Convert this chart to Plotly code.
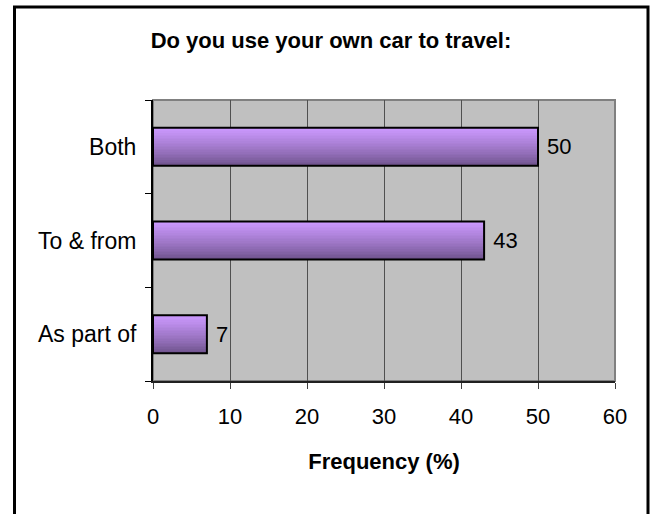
import plotly.graph_objects as go

categories = ["As part of", "To & from", "Both"]
values = [7, 43, 50]
x_ticks = [0, 10, 20, 30, 40, 50, 60]
title_text = "Do you use your own car to travel:"
x_title = "Frequency (%)"

# gradient colours (bottom dark -> top light)
dark = (104, 78, 132)
light = (204, 153, 255)
N = 24
W = 0.406

fig = go.Figure()
for i in range(N):
    t = ((i + 0.5) / N) ** 0.8
    c = tuple(int(round(d + (l - d) * t)) for d, l in zip(dark, light))
    fig.add_trace(go.Bar(
        y=categories, x=values, orientation="h",
        width=W / N + 0.002, offset=-W / 2 + i * W / N,
        marker=dict(color="rgb(%d,%d,%d)" % c, line=dict(width=0)),
        hoverinfo="skip", showlegend=False,
    ))

fig.add_trace(go.Bar(
    y=categories, x=values, orientation="h",
    width=W, offset=-W / 2,
    marker=dict(color="rgba(0,0,0,0)", line=dict(color="black", width=2)),
    text=[" " + str(v) for v in values], textposition="outside",
    constraintext="none",
    textfont=dict(family="Liberation Sans, Arial", size=22, color="black"),
    cliponaxis=False, showlegend=False,
))

fig.update_layout(
    width=654, height=514,
    margin=dict(l=153, r=39, t=100, b=133),
    paper_bgcolor="white", plot_bgcolor="#C0C0C0",
    barmode="overlay",
    font=dict(family="Liberation Sans, Arial", size=22, color="black"),
    title=dict(text="<b>" + title_text + "</b>", x=331 / 654, xref="container",
               xanchor="center", y=1 - 40 / 514, yref="container", yanchor="middle",
               font=dict(size=22, color="black")),
    xaxis=dict(range=[0, 60], tickvals=x_ticks, ticktext=[str(v) for v in x_ticks],
               showgrid=True, gridcolor="#505050", gridwidth=1,
               ticks="outside", ticklen=6, tickcolor="#404040", tickwidth=1,
               showline=True, linecolor="#202020", linewidth=2,
               ticklabelstandoff=9, zeroline=False,
               title=dict(text="<b>" + x_title + "</b>", standoff=25,
                          font=dict(size=22))),
    yaxis=dict(type="category", tickson="boundaries", ticks="outside", ticklen=6,
               tickcolor="black", tickwidth=1, showline=True, linecolor="black",
               linewidth=2, showgrid=False, ticklabelstandoff=10,
               tickfont=dict(size=23)),
    shapes=[
        dict(type="rect", xref="paper", yref="paper", x0=0, x1=1, y0=0, y1=1,
             line=dict(color="#808080", width=2), fillcolor="rgba(0,0,0,0)", layer="below"),
        dict(type="rect", xref="paper", yref="paper",
             x0=(14.5 - 153) / 462, x1=(648 - 153) / 462,
             y0=(381 - 540) / 281, y1=(381 - 7) / 281,
             line=dict(color="black", width=3), fillcolor="rgba(0,0,0,0)"),
    ],
)

fig.write_html("out.html", config={"displayModeBar": False},
               post_script="document.body.style.margin='0';document.body.style.overflow='hidden';")
